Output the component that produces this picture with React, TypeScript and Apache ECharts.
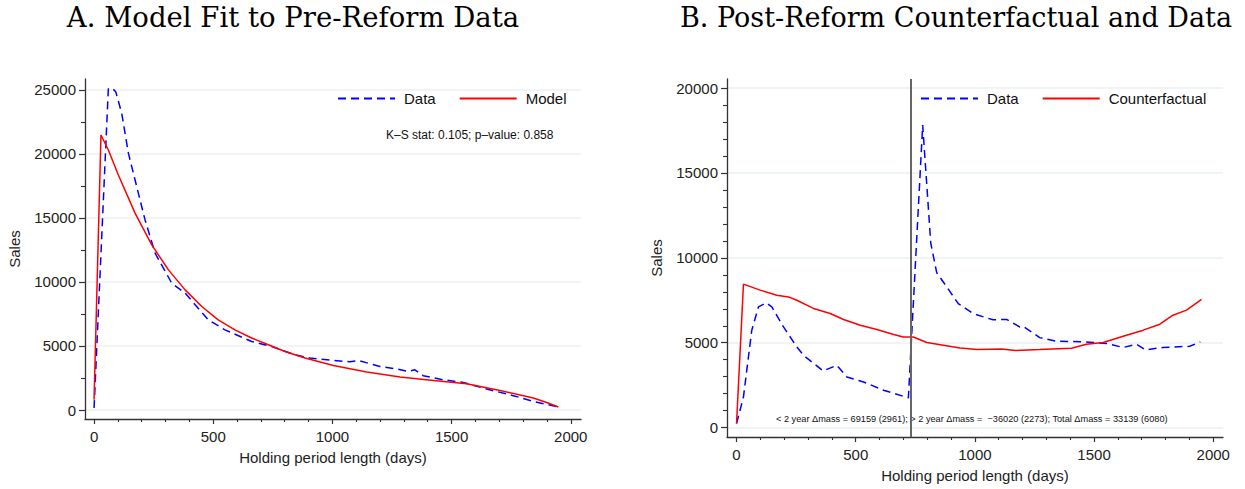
import React, { useEffect, useRef } from "react";
import * as echarts from "echarts";

// ---------- data ----------
const preDataDays = [0, 60, 80, 91, 116, 144, 179, 214, 256, 326, 382, 479, 549, 661, 745, 843, 906, 1004, 1074, 1109, 1199, 1270, 1318, 1346, 1381, 1465, 1549, 1647, 1759, 1843, 1948];
const preDataSales = [150, 25100, 25050, 24850, 23170, 20050, 17440, 14840, 12250, 9900, 9130, 7040, 6260, 5350, 4960, 4310, 4060, 3870, 3770, 3870, 3400, 3200, 3010, 3140, 2680, 2360, 2150, 1640, 1120, 670, 230];

const preModelDays = [0, 29, 60, 102, 172, 242, 312, 382, 452, 521, 591, 661, 731, 801, 885, 1004, 1144, 1284, 1424, 1563, 1703, 1843, 1899, 1948];
const preModelSales = [800, 21470, 20300, 18350, 15370, 12890, 10940, 9380, 8080, 7040, 6260, 5620, 5090, 4570, 4060, 3480, 2960, 2570, 2310, 2050, 1530, 940, 590, 230];

const postDataDays = [0, 29, 64, 92, 124, 148, 197, 253, 281, 363, 421, 463, 533, 617, 721, 781, 815, 840, 882, 930, 992, 1076, 1133, 1188, 1202, 1272, 1342, 1412, 1482, 1552, 1622, 1678, 1716, 1789, 1901, 1946];
const postDataSales = [240, 1800, 5740, 7110, 7350, 7110, 5930, 4750, 4260, 3340, 3670, 2980, 2690, 2200, 1750, 17820, 10850, 9120, 8290, 7310, 6720, 6350, 6370, 5930, 5970, 5300, 5090, 5070, 5030, 4960, 4720, 4910, 4580, 4720, 4790, 5050];

const postCfDays = [0, 29, 99, 169, 218, 253, 323, 393, 449, 519, 589, 659, 700, 742, 798, 868, 938, 1008, 1063, 1111, 1170, 1272, 1405, 1468, 1538, 1622, 1706, 1776, 1831, 1888, 1951];
const postCfSales = [240, 8450, 8100, 7800, 7700, 7500, 7020, 6720, 6370, 6030, 5780, 5480, 5340, 5340, 5010, 4850, 4690, 4600, 4620, 4630, 4540, 4600, 4680, 4910, 5010, 5380, 5740, 6090, 6620, 6920, 7550];

const reformDay = 730;

const xTicks = [0, 500, 1000, 1500, 2000];
const xMinorTicks = [100, 200, 300, 400, 600, 700, 800, 900, 1100, 1200, 1300, 1400, 1600, 1700, 1800, 1900];
const leftYTicks = [0, 5000, 10000, 15000, 20000, 25000];
const leftYMinorTicks = [2500, 7500, 12500, 17500, 22500];
const rightYTicks = [0, 5000, 10000, 15000, 20000];
const rightYMinorTicks = [1000, 2000, 3000, 4000, 6000, 7000, 8000, 9000, 11000, 12000, 13000, 14000, 16000, 17000, 18000, 19000];

const titleA = "A. Model Fit to Pre-Reform Data";
const titleB = "B. Post-Reform Counterfactual and Data";
const ksText = "K\u2013S stat: 0.105; p\u2013value: 0.858";
const massText = "< 2 year \u0394mass = 69159 (2961); > 2 year \u0394mass =  \u221236020 (2273); Total \u0394mass = 33139 (6080)";

const SANS = "Liberation Sans, Arial, Helvetica, sans-serif";
const SERIF = "DejaVu Serif, serif";
const AXIS_COLOR = "#333";
const GRID_COLOR = "#eaf1f3";

function pairs(xs: number[], ys: number[]) {
  return xs.map((x, i) => [x, ys[i]]);
}

function majorX(gridIndex: number, min: number, max: number) {
  return {
    type: "value",
    gridIndex,
    min,
    max,
    position: "bottom",
    axisLine: { show: true, onZero: false, lineStyle: { color: AXIS_COLOR, width: 1.3 } },
    axisTick: { show: true, length: 5, customValues: xTicks, lineStyle: { color: AXIS_COLOR, width: 1.2 } },
    axisLabel: {
      customValues: xTicks,
      formatter: (v: number) => String(v),
      fontSize: 15,
      color: "#222",
      fontFamily: SANS,
      margin: 10,
    },
    splitLine: { show: false },
    name: "Holding period length (days)",
    nameLocation: "middle",
    nameGap: 31,
    nameTextStyle: { fontSize: 15, color: "#222", fontFamily: SANS },
  };
}

function minorX(gridIndex: number, min: number, max: number) {
  return {
    type: "value",
    gridIndex,
    min,
    max,
    position: "bottom",
    axisLine: { show: false, onZero: false },
    axisTick: { show: true, length: 3, customValues: xMinorTicks, lineStyle: { color: AXIS_COLOR, width: 1.1 } },
    axisLabel: { show: false },
    splitLine: { show: false },
  };
}

function majorY(gridIndex: number, min: number, max: number, ticks: number[]) {
  return {
    type: "value",
    gridIndex,
    min,
    max,
    position: "left",
    axisLine: { show: true, onZero: false, lineStyle: { color: AXIS_COLOR, width: 1.3 } },
    axisTick: { show: true, length: 6, customValues: ticks, lineStyle: { color: AXIS_COLOR, width: 1.2 } },
    axisLabel: {
      customValues: ticks,
      formatter: (v: number) => String(v),
      fontSize: 15,
      color: "#222",
      fontFamily: SANS,
      margin: 9,
    },
    splitLine: { show: true, lineStyle: { color: GRID_COLOR, width: 1.5 } },
    name: "Sales",
    nameLocation: "middle",
    nameGap: 63,
    nameTextStyle: { fontSize: 15, color: "#222", fontFamily: SANS },
  };
}

function minorY(gridIndex: number, min: number, max: number, ticks: number[]) {
  return {
    type: "value",
    gridIndex,
    min,
    max,
    position: "left",
    axisLine: { show: false, onZero: false },
    axisTick: { show: true, length: 4, customValues: ticks, lineStyle: { color: AXIS_COLOR, width: 1.1 } },
    axisLabel: { show: false },
    splitLine: { show: false },
  };
}

export default function App() {
  const ref = useRef<HTMLDivElement>(null);

  useEffect(() => {
    if (!ref.current) return;
    const chart = echarts.init(ref.current, null, { renderer: "svg" });
    const dataLine = { color: "#0000ff", width: 1.5, type: [8, 5] };
    const solidLine = (c: string) => ({ color: c, width: 1.5, type: "solid" });
    const legendBase = {
      top: 91,
      padding: 0,
      itemWidth: 57,
      itemHeight: 14,
      itemGap: 23,
      itemStyle: { opacity: 0, borderWidth: 0 },
      textStyle: { fontSize: 15, color: "#111", fontFamily: SANS, padding: [0, 0, 0, 4] },
    };

    chart.setOption({
      animation: false,
      backgroundColor: "#ffffff",
      grid: [
        { left: 85, top: 79, width: 496, height: 340, containLabel: false },
        { left: 727, top: 79, width: 496, height: 358, containLabel: false },
      ],
      xAxis: [
        majorX(0, -38, 2043),
        minorX(0, -38, 2043),
        majorX(1, -40, 2041),
        minorX(1, -40, 2041),
      ],
      yAxis: [
        majorY(0, -702, 25842, leftYTicks),
        minorY(0, -702, 25842, leftYMinorTicks),
        majorY(1, -554, 20537, rightYTicks),
        minorY(1, -554, 20537, rightYMinorTicks),
      ],
      legend: [
        { ...legendBase, left: 337, data: ["Data", "Model"] },
        { ...legendBase, left: 920, data: ["Data", "Counterfactual"] },
      ],
      graphic: [
        {
          type: "text",
          x: 293,
          y: 17,
          style: { text: titleA, fontSize: 27.5, fontFamily: SERIF, fill: "#000", align: "center", verticalAlign: "middle" },
        },
        {
          type: "text",
          x: 956,
          y: 17,
          style: { text: titleB, fontSize: 27, fontFamily: SERIF, fill: "#000", align: "center", verticalAlign: "middle" },
        },
        {
          type: "text",
          x: 386,
          y: 135,
          style: { text: ksText, fontSize: 12, fontFamily: SANS, fill: "#111", align: "left", verticalAlign: "middle" },
        },
        {
          type: "text",
          x: 776,
          y: 419,
          z: 1,
          style: { text: massText, fontSize: 9.2, fontFamily: SANS, fill: "#111", align: "left", verticalAlign: "middle" },
        },
      ],
      series: [
        {
          name: "Data",
          type: "line",
          xAxisIndex: 0,
          yAxisIndex: 0,
          data: pairs(preDataDays, preDataSales),
          symbol: "none",
          lineStyle: dataLine,
          itemStyle: { color: "#0000ff" },
        },
        {
          name: "Model",
          type: "line",
          xAxisIndex: 0,
          yAxisIndex: 0,
          data: pairs(preModelDays, preModelSales),
          symbol: "none",
          lineStyle: solidLine("#ff0000"),
          itemStyle: { color: "#ff0000" },
        },
        {
          name: "Data",
          type: "line",
          xAxisIndex: 2,
          yAxisIndex: 2,
          data: pairs(postDataDays, postDataSales),
          symbol: "none",
          lineStyle: dataLine,
          itemStyle: { color: "#0000ff" },
        },
        {
          name: "Counterfactual",
          type: "line",
          xAxisIndex: 2,
          yAxisIndex: 2,
          data: pairs(postCfDays, postCfSales),
          symbol: "none",
          lineStyle: solidLine("#ff0000"),
          itemStyle: { color: "#ff0000" },
          markLine: {
            silent: true,
            symbol: ["none", "none"],
            label: { show: false },
            lineStyle: { color: "#666", width: 2, type: "solid" },
            z: 10,
            data: [{ xAxis: reformDay }],
          },
        },
      ],
    });

    return () => chart.dispose();
  }, []);

  return (
    <div
      ref={ref}
      style={{ position: "absolute", left: 0, top: 0, width: 1245, height: 489, background: "#fff" }}
    />
  );
}
